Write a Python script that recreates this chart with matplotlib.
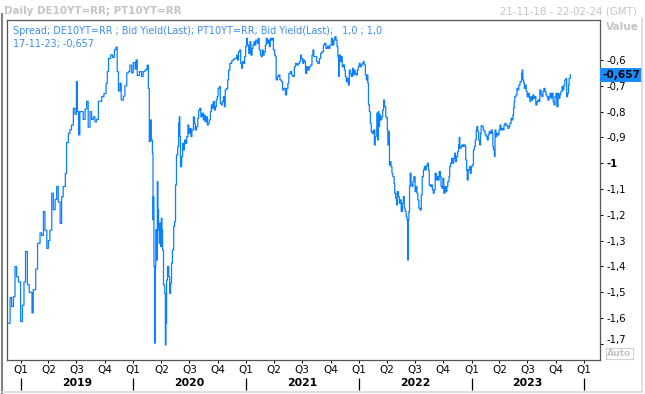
import numpy as np
import pandas as pd
import matplotlib
matplotlib.use("Agg")
import matplotlib.pyplot as plt
import matplotlib.dates as mdates
import matplotlib.transforms as mtransforms
from matplotlib.lines import Line2D

# ── Data: spread PT10Y - DE10Y (inverted sign as shown), days since START ──
START = pd.Timestamp("2019-01-01")

DAYS_2019 = [-41, -34, -29, -23, -18, -13, -7, 0, 6, 11, 16, 22, 28, 37, 41, 49,
             55, 63, 68, 74, 79, 85, 90, 95, 101, 106, 112, 117, 122, 128, 133,
             138, 145, 149, 155, 160, 165, 171, 176, 181, 184, 188, 192, 198,
             203, 209, 214, 219, 225, 230, 236, 241, 246, 252, 257, 263, 270,
             277, 281, 285, 292, 298, 304, 309, 313, 317, 322, 326, 333, 338,
             344, 349, 354, 360]
VALS_2019 = [-1.62, -1.52, -1.555, -1.517, -1.40, -1.44, -1.46, -1.613, -1.55,
             -1.46, -1.342, -1.47, -1.50, -1.58, -1.49, -1.41, -1.31, -1.27,
             -1.28, -1.187, -1.26, -1.33, -1.30, -1.26, -1.116, -1.18, -1.14,
             -1.09, -1.15, -1.233, -1.13, -1.09, -1.04, -0.92, -0.884, -0.87,
             -0.852, -0.787, -0.81, -0.684, -0.80, -0.89, -0.80, -0.80, -0.83,
             -0.79, -0.76, -0.86, -0.80, -0.83, -0.82, -0.84, -0.83, -0.76,
             -0.76, -0.742, -0.73, -0.69, -0.645, -0.594, -0.58, -0.59, -0.56,
             -0.55, -0.645, -0.72, -0.69, -0.755, -0.74, -0.70, -0.65, -0.645,
             -0.62, -0.65]

DAYS_2020 = [365, 371, 374, 378, 385, 392, 397, 403, 408, 410, 414, 417, 421,
             423, 427, 429, 430, 432, 434, 436, 438, 441, 443, 445, 447, 449,
             451, 454, 456, 458, 460, 463, 467, 469, 471, 473, 476, 480, 483,
             486, 489, 492, 496, 499, 502, 505, 509, 512, 514, 516, 518, 522,
             525, 528, 531, 535, 538, 542, 545, 549, 552, 555, 560, 563, 566,
             570, 574, 577, 581, 584, 588, 592, 595, 598, 602, 605, 608, 611,
             615, 618, 621, 624, 628, 631, 634, 637, 640, 644, 647, 650, 653,
             657, 660, 663, 667, 671, 674, 678, 684, 689, 694, 700, 703, 706,
             710, 713, 716, 719, 723, 726, 729]
VALS_2020 = [-0.61, -0.635, -0.60, -0.66, -0.645, -0.664, -0.645, -0.639,
             -0.636, -0.62, -0.71, -0.916, -0.832, -0.91, -0.961, -1.22, -1.13,
             -1.40, -1.697, -1.40, -1.258, -1.375, -1.071, -1.181, -1.258,
             -1.31, -1.232, -1.323, -1.213, -1.258, -1.336, -1.471, -1.504,
             -1.704, -1.62, -1.452, -1.40, -1.439, -1.504, -1.465, -1.387,
             -1.336, -1.245, -1.226, -1.084, -0.968, -0.936, -0.845, -0.82,
             -0.897, -1.013, -0.974, -0.923, -0.948, -0.91, -0.923, -0.897,
             -0.852, -0.884, -0.865, -0.897, -0.871, -0.82, -0.845, -0.871,
             -0.858, -0.826, -0.794, -0.787, -0.82, -0.806, -0.832, -0.813,
             -0.839, -0.82, -0.852, -0.845, -0.832, -0.80, -0.774, -0.787,
             -0.761, -0.794, -0.781, -0.755, -0.742, -0.71, -0.703, -0.768,
             -0.774, -0.761, -0.742, -0.781, -0.716, -0.71, -0.677, -0.639,
             -0.613, -0.603, -0.597, -0.594, -0.581, -0.60, -0.568, -0.561,
             -0.613, -0.632, -0.606, -0.613, -0.587, -0.548]

DAYS_2021 = [732, 735, 739, 743, 746, 750, 753, 756, 759, 762, 767, 770, 773,
             777, 780, 783, 786, 789, 793, 796, 799, 802, 806, 809, 812, 815,
             819, 823, 826, 828, 832, 836, 840, 845, 849, 853, 858, 862, 866,
             869, 874, 878, 882, 887, 891, 895, 900, 904, 907, 910, 914, 917,
             920, 923, 927, 931, 935, 940, 944, 947, 950, 955, 959, 963, 968,
             972, 976, 981, 985, 989, 994, 998, 1002, 1007, 1011, 1015, 1018,
             1022, 1025, 1028, 1030, 1032, 1036, 1039, 1042, 1045, 1049, 1052,
             1055, 1058, 1062, 1065, 1068, 1071, 1075, 1078, 1081, 1084, 1087,
             1091, 1094]
VALS_2021 = [-0.516, -0.542, -0.574, -0.529, -0.581, -0.555, -0.542, -0.529,
             -0.542, -0.523, -0.535, -0.516, -0.561, -0.581, -0.587, -0.561,
             -0.581, -0.568, -0.542, -0.516, -0.535, -0.523, -0.548, -0.516,
             -0.523, -0.516, -0.561, -0.581, -0.587, -0.677, -0.664, -0.658,
             -0.677, -0.684, -0.716, -0.71, -0.735, -0.71, -0.69, -0.652,
             -0.645, -0.658, -0.664, -0.626, -0.613, -0.619, -0.613, -0.606,
             -0.581, -0.594, -0.613, -0.60, -0.606, -0.652, -0.626, -0.639,
             -0.626, -0.619, -0.581, -0.561, -0.587, -0.587, -0.606, -0.613,
             -0.594, -0.574, -0.568, -0.542, -0.535, -0.555, -0.546, -0.555,
             -0.542, -0.516, -0.542, -0.523, -0.51, -0.523, -0.548, -0.587,
             -0.664, -0.581, -0.606, -0.587, -0.626, -0.619, -0.639, -0.664,
             -0.684, -0.671, -0.697, -0.639, -0.652, -0.664, -0.632, -0.658,
             -0.639, -0.652, -0.658, -0.639, -0.626]

DAYS_2022 = [1097, 1100, 1104, 1107, 1110, 1113, 1117, 1120, 1123, 1125, 1127,
             1130, 1133, 1136, 1139, 1143, 1146, 1149, 1152, 1154, 1157, 1159,
             1161, 1163, 1166, 1170, 1173, 1176, 1179, 1183, 1186, 1188, 1190,
             1192, 1194, 1195, 1198, 1200, 1203, 1206, 1210, 1212, 1215, 1218,
             1220, 1224, 1227, 1230, 1233, 1237, 1240, 1243, 1246, 1249, 1252,
             1254, 1256, 1258, 1260, 1262, 1265, 1268, 1271, 1274, 1278, 1281,
             1284, 1287, 1290, 1294, 1298, 1301, 1305, 1308, 1311, 1314, 1318,
             1321, 1324, 1327, 1330, 1334, 1337, 1340, 1343, 1347, 1350, 1353,
             1356, 1360, 1362, 1365, 1368, 1371, 1375, 1378, 1381, 1384, 1388,
             1390, 1393, 1396, 1400, 1403, 1406, 1409, 1412, 1416, 1419, 1421,
             1423, 1427, 1430, 1433, 1436, 1440, 1442, 1445, 1447, 1450, 1454,
             1457, 1460]
VALS_2022 = [-0.613, -0.626, -0.619, -0.613, -0.606, -0.619, -0.658, -0.677,
             -0.658, -0.69, -0.774, -0.80, -0.845, -0.877, -0.884, -0.871,
             -0.929, -0.897, -0.871, -0.806, -0.91, -0.80, -0.858, -0.813,
             -0.832, -0.82, -0.794, -0.755, -0.781, -0.82, -0.826, -0.871,
             -0.929, -0.877, -0.91, -1.007, -0.994, -1.013, -1.039, -1.052,
             -1.078, -1.116, -1.136, -1.162, -1.11, -1.129, -1.155, -1.142,
             -1.187, -1.155, -1.129, -1.174, -1.187, -1.207, -1.22, -1.375,
             -1.22, -1.187, -1.09, -1.039, -1.084, -1.09, -1.071, -1.052, -1.11,
             -1.09, -1.116, -1.142, -1.174, -1.181, -1.123, -1.052, -1.026,
             -1.013, -1.026, -1.01, -1.00, -1.026, -1.084, -1.09, -1.084,
             -1.103, -1.116, -1.103, -1.039, -1.065, -1.052, -1.065, -1.032,
             -1.052, -1.09, -1.097, -1.058, -1.116, -1.09, -1.11, -1.09,
             -1.071, -1.052, -1.013, -1.00, -0.981, -1.00, -0.981, -0.961,
             -0.994, -0.974, -0.955, -0.929, -0.90, -0.942, -0.935, -0.929,
             -0.935, -0.929, -0.935, -0.987, -1.026, -1.065, -1.026, -1.013,
             -1.039, -1.013]

DAYS_2023 = [1463, 1467, 1470, 1473, 1476, 1478, 1481, 1484, 1487, 1490, 1492,
             1496, 1499, 1502, 1505, 1509, 1512, 1515, 1518, 1522, 1525, 1528,
             1530, 1532, 1535, 1537, 1540, 1543, 1546, 1550, 1553, 1556, 1559,
             1563, 1566, 1569, 1572, 1576, 1579, 1582, 1585, 1589, 1592, 1595,
             1597, 1599, 1601, 1605, 1608, 1611, 1614, 1618, 1621, 1623, 1625,
             1627, 1630, 1632, 1635, 1638, 1641, 1645, 1648, 1650, 1653, 1657,
             1660, 1663, 1666, 1669, 1673, 1676, 1679, 1682, 1686, 1689, 1692,
             1695, 1699, 1702, 1705, 1708, 1712, 1715, 1718, 1721, 1725, 1728,
             1731, 1734, 1737, 1741, 1744, 1747, 1750, 1754, 1757, 1760, 1763,
             1767, 1769, 1772, 1775, 1777, 1781]
VALS_2023 = [-1.007, -0.948, -0.935, -0.91, -0.871, -0.858, -0.877, -0.91,
             -0.929, -0.884, -0.855, -0.858, -0.871, -0.877, -0.89, -0.897,
             -0.91, -0.89, -0.877, -0.884, -0.871, -0.884, -0.935, -0.948,
             -0.974, -0.871, -0.897, -0.884, -0.89, -0.871, -0.852, -0.871,
             -0.865, -0.871, -0.852, -0.845, -0.852, -0.855, -0.865, -0.858,
             -0.845, -0.826, -0.832, -0.813, -0.787, -0.761, -0.742, -0.735,
             -0.71, -0.716, -0.697, -0.684, -0.684, -0.652, -0.639, -0.677,
             -0.69, -0.71, -0.697, -0.722, -0.742, -0.729, -0.748, -0.761,
             -0.742, -0.755, -0.735, -0.748, -0.742, -0.774, -0.761, -0.755,
             -0.761, -0.716, -0.735, -0.742, -0.722, -0.71, -0.722, -0.735,
             -0.742, -0.755, -0.742, -0.729, -0.748, -0.729, -0.761, -0.774,
             -0.742, -0.729, -0.781, -0.729, -0.748, -0.735, -0.722, -0.703,
             -0.716, -0.697, -0.677, -0.671, -0.742, -0.729, -0.697, -0.671,
             -0.657]

LAST_LABEL = "-0,657"
Y_TICKS = [-0.6, -0.7, -0.8, -0.9, -1.0, -1.1, -1.2, -1.3, -1.4, -1.5, -1.6, -1.7]
YEARS = [2019, 2020, 2021, 2022, 2023]

LINE_BLUE = "#0a80ff"
TEXT_BLUE = "#3a8ef0"
GREY = "#c4c4c4"
FONT = "DejaVu Sans"


def main():
    days = DAYS_2019 + DAYS_2020 + DAYS_2021 + DAYS_2022 + DAYS_2023
    vals = VALS_2019 + VALS_2020 + VALS_2021 + VALS_2022 + VALS_2023
    dates = START + pd.to_timedelta(days, unit="D")

    plt.rcParams["font.family"] = FONT
    W, H = 645, 394
    fig = plt.figure(figsize=(W / 100, H / 100), dpi=100)
    left, right, top, bottom = 7.3, 600, 20, 359.5
    ax = fig.add_axes([left / W, 1 - bottom / H, (right - left) / W, (bottom - top) / H])

    ax.plot(dates, vals, color=LINE_BLUE, lw=0.9, drawstyle="steps-post")

    ax.set_xlim(pd.Timestamp("2018-11-19"), pd.Timestamp("2024-02-21"))
    ax.set_ylim(-1.7604, -0.445)

    for s in ax.spines.values():
        s.set_color("#555555")
        s.set_linewidth(0.9)

    # right value axis
    ax.yaxis.tick_right()
    ax.set_yticks(Y_TICKS)
    ax.set_yticklabels([("%g" % v).replace(".", ",") for v in Y_TICKS])
    ax.tick_params(axis="y", length=2.5, width=0.7, pad=2, labelsize=7.3, colors="black")
    lift = mtransforms.ScaledTranslation(0, 5 / 100, fig.dpi_scale_trans)
    for lab, v in zip(ax.get_yticklabels(), Y_TICKS):
        if v == -1.0:
            lab.set_fontweight("bold")
        if v == -1.7:
            lab.set_transform(lab.get_transform() + lift)

    # quarter ticks
    qstarts = pd.date_range("2019-01-01", "2024-01-01", freq="QS")
    ax.set_xticks(qstarts)
    ax.set_xticklabels(["Q%d" % q.quarter for q in qstarts])
    ax.tick_params(axis="x", length=2.5, width=0.7, pad=1.5, labelsize=7.5, colors="black")

    # year separators + year labels
    sec = ax.secondary_xaxis(-0.0545)
    ystarts = pd.date_range("2019-01-01", "2024-01-01", freq="YS")
    sec.set_xticks(mdates.date2num(ystarts))
    sec.set_xticklabels([])
    sec.tick_params(axis="x", length=8.6, width=0.9, direction="out", colors="black")
    sec.spines["bottom"].set_visible(False)
    xtr = ax.get_xaxis_transform()
    for y in YEARS:
        mid = pd.Timestamp(f"{y}-07-02")
        ax.text(mid, -0.0695, str(y), transform=xtr, ha="center", va="center",
                fontsize=7.8, fontweight="bold", clip_on=False)

    # in-plot header
    ax.text(0.0096, 0.9676, "Spread; DE10YT=RR ; Bid Yield(Last); PT10YT=RR; Bid Yield(Last);   1,0 ; 1,0",
            transform=ax.transAxes, color=TEXT_BLUE, fontsize=6.95, va="center", ha="left")
    ax.text(0.0096, 0.9293, "17-11-23; -0,657", transform=ax.transAxes,
            color=TEXT_BLUE, fontsize=6.95, va="center", ha="left")

    # last value marker on the axis
    btr = mtransforms.blended_transform_factory(ax.transAxes, ax.transData)
    ax.text(1.004, vals[-1], LAST_LABEL, transform=btr, ha="left", va="center",
            fontsize=7.6, fontweight="bold", color="black", clip_on=False,
            bbox=dict(boxstyle="square,pad=0.18", fc="#1a8cff", ec="none"))

    # window texts
    fig.text(4 / W, 1 - 11 / H, "Daily DE10YT=RR; PT10YT=RR", color=GREY,
             fontsize=7.4, fontweight="bold", va="center", ha="left")
    fig.text(637 / W, 1 - 11 / H, "21-11-18 - 22-02-24 (GMT)", color=GREY,
             fontsize=7.4, va="center", ha="right")
    fig.text(622 / W, 1 - 27 / H, "Value", color=GREY, fontsize=7.6,
             fontweight="bold", va="center", ha="center")
    fig.text(619.5 / W, 1 - 353.5 / H, "Auto", color=GREY, fontsize=6.6,
             fontweight="bold", va="center", ha="center",
             bbox=dict(boxstyle="square,pad=0.1", fc="white", ec="#d0d0d0", lw=0.8))

    # window frame
    fig.add_artist(Line2D([1.5 / W, 1.5 / W], [0, 1 - 14 / H], transform=fig.transFigure,
                          color="#808080", lw=1.5))
    fig.add_artist(Line2D([1.5 / W, 642 / W], [1 - 391.5 / H, 1 - 391.5 / H],
                          transform=fig.transFigure, color="#d8d8d8", lw=1.2))
    fig.add_artist(Line2D([642 / W, 642 / W], [1 - 391.5 / H, 1 - 18 / H],
                          transform=fig.transFigure, color="#d8d8d8", lw=1.2))

    fig.savefig("out.png", dpi=100)
    plt.close(fig)


if __name__ == "__main__":
    main()
